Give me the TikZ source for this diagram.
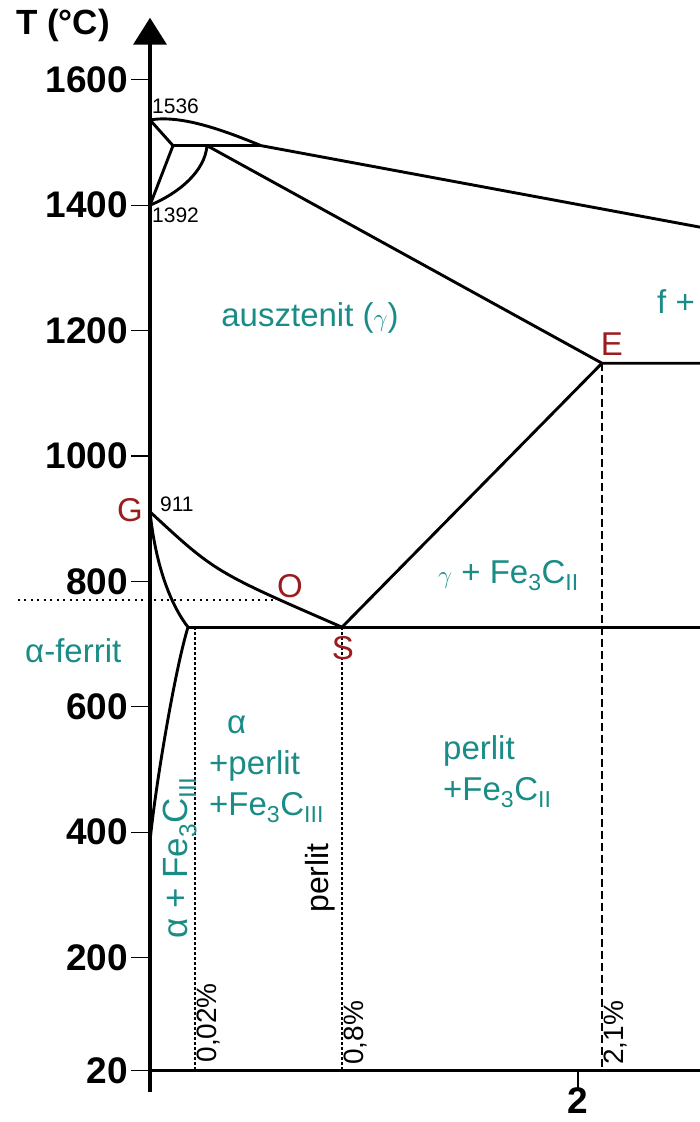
\documentclass[tikz,border=0pt]{standalone}
\usepackage{fontspec}
\setmainfont{Liberation Sans}
\usetikzlibrary{arrows.meta}
\definecolor{PhaseTeal}{HTML}{1A8C87}
\definecolor{PointRed}{HTML}{9B1C1C}

\begin{document}
\begin{tikzpicture}[x=1pt, y=0.627pt,
    phase/.style={line width=2.9pt, line join=round},
    axis/.style={line width=3.8pt},
    tickline/.style={line width=1.3pt},
    guide/.style={line width=1.1pt, dash pattern=on 3pt off 2pt},
    ledeb/.style={line width=1.8pt, dash pattern=on 8pt off 4pt},
    curie/.style={line width=2pt, dash pattern=on 2pt off 4.5pt},
    ticklab/.style={anchor=east, inner sep=3pt, font=\fontsize{37}{37}\selectfont\bfseries},
    temp/.style={anchor=base west, inner sep=0pt, font=\fontsize{21}{21}\selectfont},
    pointlab/.style={text=PointRed, inner sep=0pt, font=\fontsize{33}{33}\selectfont},
    region/.style={text=PhaseTeal, inner sep=0pt, font=\fontsize{33}{41}\selectfont},
    conc/.style={rotate=90, inner sep=0pt, font=\fontsize{28}{28}\selectfont}
  ]
  \useasboundingbox (-150,-62.2) rectangle (550,1727.3);

  % characteristic points
  \coordinate (A) at (0,1536);
  \coordinate (N) at (23,1495);
  \coordinate (J) at (57,1495);
  \coordinate (B) at (111,1495);
  \coordinate (D) at (0,1400);
  \coordinate (C) at (550,1365);
  \coordinate (E) at (452,1148);
  \coordinate (F) at (550,1148);
  \coordinate (G) at (0,911);
  \coordinate (S) at (192,727);
  \coordinate (P) at (38,727);
  \coordinate (K) at (550,727);
  \coordinate (Q) at (0,385);

  % axes
  \draw[axis, -{Triangle[length=27pt,width=33pt]}] (0,-15) -- (0,1699);
  \draw[axis] (-1.9,20) -- (550,20);
  \foreach \t in {20,200,400,600,800,1000,1200,1400,1600} {
    \draw[tickline] (-19,\t) -- (0,\t);
    \node[ticklab] at (-19,\t) {\t};
  }
  \draw[tickline] (428,20) -- (428,-11);
  \node[font=\fontsize{37}{37}\selectfont\bfseries] at (428,-28) {2};
  \node[font=\fontsize{35}{35}\selectfont\bfseries] at (-87,1686) {T (°C)};

  % phase boundaries
  \draw[phase] (A) -- (N) -- (D);
  \draw[phase] (A) .. controls (30,1544) and (70,1522) .. (B) -- (C);
  \draw[phase] (N) -- (B);
  \draw[phase] (D) .. controls (30,1420) and (55,1455) .. (J) -- (E) -- (F);
  \draw[phase] (E) -- (S);
  \draw[phase] (G) .. controls (65,815) .. (S);
  \draw[phase] (G) .. controls (6,820) and (22,760) .. (P)
    .. controls (25,660) and (5,470) .. (Q);
  \draw[phase] (P) -- (K);

  % guide lines
  \draw[curie] (-132,770) -- (128,770);
  \draw[guide] (45,727) -- (45,20);
  \draw[guide] (S) -- (192,20);
  \draw[ledeb] (E) -- (452,20);

  % point labels
  \node[pointlab] at (-20,914) {G};
  \node[pointlab] at (140,793) {O};
  \node[pointlab] at (193,694) {S};
  \node[pointlab] at (462,1179) {E};
  \node[temp] at (2,1547) {1536};
  \node[temp] at (2,1372) {1392};
  \node[temp] at (10,911) {911};

  % regions
  \node[region, anchor=base] at (160,1206) {ausztenit (\(\gamma\))};
  \node[region, anchor=base west] at (507,1228) {f +};
  \node[region, anchor=base west] at (288,797) {\(\gamma\) + Fe\textsubscript{3}C\textsubscript{II}};
  \node[region, anchor=base west] at (-125,671) {α-ferrit};
  \node[region, anchor=base west, align=left] at (59,427) {\hspace*{18pt}α\\+perlit\\+Fe\textsubscript{3}C\textsubscript{III}};
  \node[region, anchor=base west, align=left] at (293,451) {perlit\\+Fe\textsubscript{3}C\textsubscript{II}};
  \node[region, rotate=90, font=\fontsize{35}{35}\selectfont] at (30,359) {α + Fe\textsubscript{3}C\textsubscript{III}};
  \node[rotate=90, inner sep=0pt, font=\fontsize{32}{32}\selectfont] at (170,327) {perlit};
  \node[conc] at (59,96) {0,02\%};
  \node[conc] at (206,80) {0,8\%};
  \node[conc] at (466,80) {2,1\%};
\end{tikzpicture}
\end{document}
